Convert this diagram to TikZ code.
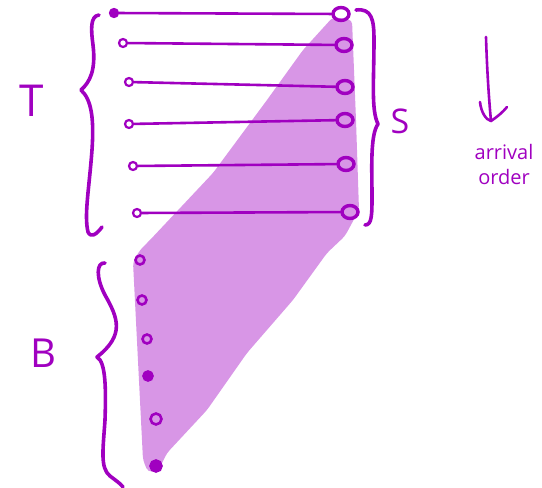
\documentclass[tikz,border=0pt]{standalone}
\usepackage{fontspec}
\setmainfont{Open Sans}
\usetikzlibrary{shapes.geometric}
\definecolor{ink}{RGB}{160,0,192}
\definecolor{bandfill}{RGB}{216,150,230}
\begin{document}
\begin{tikzpicture}[x=1pt,y=-1pt,
  ink line/.style={draw=ink,line width=2.6pt,line cap=round,line join=round},
  brace line/.style={draw=ink,line width=3.6pt,line cap=round,line join=round},
  tdot/.style={circle,draw=ink,line width=2.2pt,minimum size=8pt,inner sep=0pt},
  sdot/.style={ellipse,draw=ink,line width=3.4pt,minimum width=16pt,minimum height=13pt,inner sep=0pt},
  bdot/.style={circle,draw=ink,line width=2.6pt,minimum size=9pt,inner sep=0pt},
  big/.style={text=ink,font=\fontsize{40}{40}\selectfont},
  small/.style={text=ink,font=\fontsize{20}{25}\selectfont},
]
\useasboundingbox (0,0) rectangle (542,488);
% shaded band
\fill[bandfill,rounded corners=4pt] (333,17) -- (352,20) -- (356,120) -- (359,210) -- (345,236)
  -- (327,253) -- (293,300) -- (247,353) -- (207,410) -- (167,453) -- (158,471) -- (148,472)
  -- (143,460) -- (133,262) -- (140,250) -- (150,240) -- (213,173) -- (267,100) -- (303,50) -- cycle;
% T points
\node[tdot,fill=ink] (t1) at (114,13) {};
\node[tdot] (t2) at (123,43) {};
\node[tdot] (t3) at (129,82) {};
\node[tdot] (t4) at (129,124) {};
\node[tdot] (t5) at (133,166) {};
\node[tdot] (t6) at (137,213) {};
% S points
\node[sdot] (s1) at (341,14) {};
\node[sdot] (s2) at (344,45) {};
\node[sdot] (s3) at (345,87) {};
\node[sdot] (s4) at (345,120) {};
\node[sdot] (s5) at (346,164) {};
\node[sdot] (s6) at (350,212) {};
% connectors
\foreach \i in {1,...,6} \draw[ink line] (t\i) -- (s\i);
% B points
\node[bdot] (b1) at (140,260) {};
\node[bdot] (b2) at (142,300) {};
\node[bdot] (b3) at (147,339) {};
\node[bdot,fill=ink] (b4) at (148,376) {};
\node[bdot,minimum size=11pt] (b5) at (156,419) {};
\node[bdot,fill=ink,minimum size=11pt] (b6) at (156,466) {};
% braces
\draw[brace line] (99,15) .. controls (90,16) and (91,30) .. (93,45)
  .. controls (96,70) and (90,82) .. (81,90)
  .. controls (92,100) and (94,120) .. (92,150)
  .. controls (89,190) and (84,215) .. (88,232)
  .. controls (91,238) and (96,235) .. (102,227);
\draw[brace line] (356,10) .. controls (372,8) and (374,20) .. (374,40)
  .. controls (374,80) and (371,110) .. (378,124)
  .. controls (370,135) and (372,170) .. (372,195)
  .. controls (372,215) and (372,225) .. (365,225);
\draw[brace line] (105,263) .. controls (96,262) and (96,278) .. (105,295)
  .. controls (118,318) and (125,335) .. (97,357)
  .. controls (106,362) and (106,390) .. (105,420)
  .. controls (103,450) and (100,468) .. (110,476)
  .. controls (115,480) and (120,483) .. (123,487);
% labels
\node[big,font=\fontsize{44}{44}\selectfont] (tl) at (32,101) {T};
\node[big,font=\fontsize{34}{34}\selectfont] (sl) at (400,121) {S};
\node[big] (bl) at (43,353) {B};
% arrival order arrow
\coordinate (a0) at (486,37);
\coordinate (a1) at (491,121);
\draw[ink line] (a0) .. controls (487,70) and (489,100) .. (a1);
\draw[ink line] (480,102) .. controls (481,112) and (486,120) .. (a1) .. controls (497,117) and (503,112) .. (507,107);
\node[small,align=center] (ao) at (504,164) {arrival\\order};
\end{tikzpicture}
\end{document}
